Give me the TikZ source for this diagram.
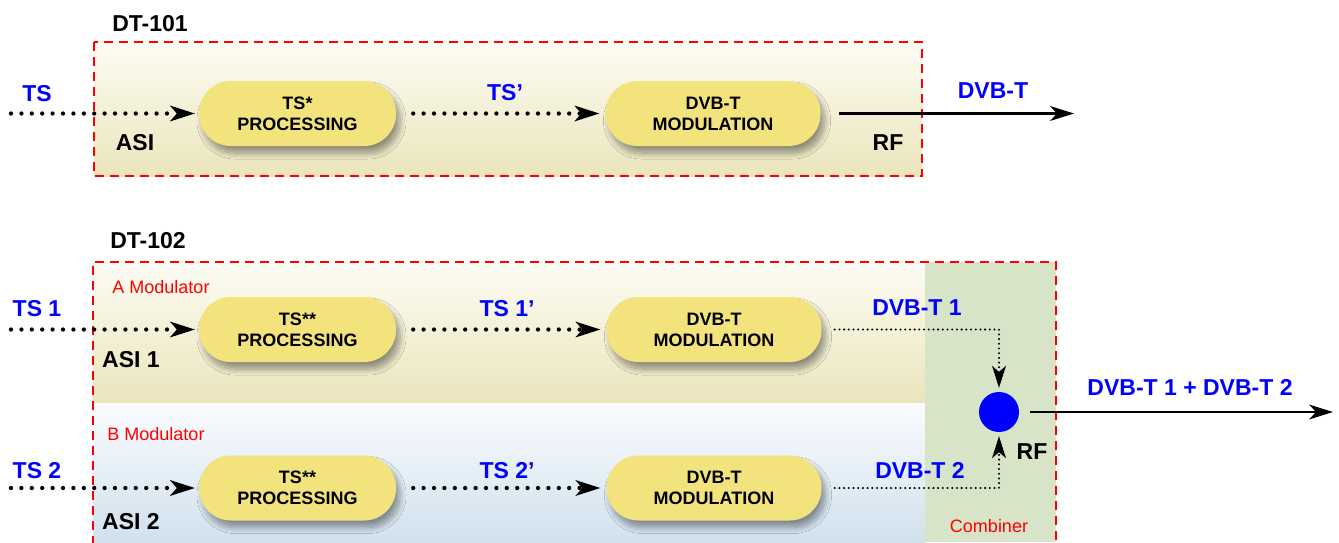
\documentclass[tikz,border=0pt]{standalone}
\usepackage{fontspec}
\setmainfont{Liberation Sans}
\usetikzlibrary{arrows.meta,shadows.blur}
\definecolor{boxyellow}{HTML}{F2E37C}
\definecolor{beigeTop}{HTML}{FDFCF4}
\definecolor{beigeBot}{HTML}{EAE5BC}
\definecolor{blueTop}{HTML}{FAFCFE}
\definecolor{blueBot}{HTML}{D0E1EE}
\definecolor{combgreen}{HTML}{D7E4C8}
\definecolor{sigblue}{HTML}{0000FF}
\definecolor{dashred}{HTML}{FF0000}
\begin{document}
\begin{tikzpicture}[x=1pt,y=-1pt,
  block/.style={draw=none, fill=boxyellow, rounded corners=32pt, minimum height=65pt,
    align=center, inner sep=0pt, font=\fontsize{18}{21}\selectfont\bfseries,
    blur shadow={shadow xshift=4pt, shadow yshift=-7pt, shadow blur radius=6pt, shadow blur steps=12, shadow opacity=40}},
  sig/.style={text=sigblue, inner sep=0pt, font=\fontsize{23}{26}\selectfont\bfseries},
  lblk/.style={text=black, inner sep=0pt, font=\fontsize{23}{26}\selectfont\bfseries},
  note/.style={text=dashred, inner sep=0pt, font=\fontsize{18}{20}\selectfont},
  frame/.style={draw=dashred, line width=2.5pt, dash pattern=on 9pt off 6pt},
  bigdot/.style={line width=4.3pt, dash pattern=on 0pt off 10.4pt, line cap=round,
    -{Stealth[length=25pt,width=16pt,inset=7pt,line width=0pt]}},
  thindot/.style={line width=2.3pt, dash pattern=on 0pt off 4.7pt, line cap=round,
    -{Stealth[length=22pt,width=14pt,inset=6pt,line width=0pt]}},
  solidarrow/.style={line width=2.6pt, -{Stealth[length=24pt,width=15pt,inset=7pt,line width=0pt]}}
]
\useasboundingbox (0,0) rectangle (1339,542);

% ---------- backgrounds ----------
\shade[top color=beigeTop, bottom color=beigeBot] (94,42) rectangle (922,176);
\shade[top color=beigeTop, bottom color=beigeBot] (93,262) rectangle (925,403);
\shade[top color=blueTop, bottom color=blueBot] (93,403) rectangle (925,542);
\fill[combgreen] (925,262) rectangle (1056,542);

% ---------- frames ----------
\draw[frame] (94,42) rectangle (922,176);
\draw[frame] (93,545) -- (93,262) -- (1056,262) -- (1056,545);

% ---------- DT-101 ----------
\node[lblk] (dt101) at (150,23.5) {DT-101};
\node[block, minimum width=197pt] (proc0) at (297.5,113.5) {TS*\\PROCESSING};
\node[block, minimum width=215pt] (mod0) at (713,113.5) {DVB-T\\MODULATION};
\node[sig] (ts) at (37,94) {TS};
\node[lblk] (asi) at (135,143) {ASI};
\node[sig] (tsp) at (505,93) {TS’};
\node[sig] (dvbt) at (993,91) {DVB-T};
\node[lblk] (rf0) at (888,143) {RF};
\coordinate (tsin) at (11,113.5);
\coordinate (dvbout) at (1074,113.5);
\draw[bigdot, shorten >=4pt] (tsin) -- (proc0.west);
\draw[bigdot, shorten <=17pt, shorten >=6pt] (proc0.east) -- (mod0.west);
\draw[solidarrow, shorten <=18pt] (mod0.east) -- (dvbout);

% ---------- DT-102 ----------
\node[lblk] (dt102) at (148,241) {DT-102};
\node[note] (amod) at (161,287) {A Modulator};
\node[note] (bmod) at (156,434) {B Modulator};
\node[note] (combl) at (989,526) {Combiner};

\node[block, minimum width=197pt] (proc1) at (297.5,329.5) {TS**\\PROCESSING};
\node[block, minimum width=215pt] (mod1) at (714,329.5) {DVB-T\\MODULATION};
\node[block, minimum width=197pt] (proc2) at (297.5,488) {TS**\\PROCESSING};
\node[block, minimum width=215pt] (mod2) at (714,488) {DVB-T\\MODULATION};

\node[sig] (ts1) at (37,309) {TS 1};
\node[lblk] (asi1) at (131,360) {ASI 1};
\node[sig] (ts1p) at (507,309) {TS 1’};
\node[sig] (dvbt1) at (917,308) {DVB-T 1};
\node[sig] (ts2) at (37,471) {TS 2};
\node[lblk] (asi2) at (131,522) {ASI 2};
\node[sig] (ts2p) at (507,471) {TS 2’};
\node[sig] (dvbt2) at (920,470) {DVB-T 2};

\node[circle, fill=sigblue, minimum size=40pt, inner sep=0pt] (comb) at (999,412) {};
\node[lblk] (rf1) at (1032,452) {RF};
\node[sig] (sum) at (1190,387) {DVB-T 1 + DVB-T 2};

\coordinate (ts1in) at (11,329.5);
\coordinate (ts2in) at (11,488);
\coordinate (sumout) at (1333,412);
\draw[bigdot, shorten >=4pt] (ts1in) -- (proc1.west);
\draw[bigdot, shorten <=17pt, shorten >=6pt] (proc1.east) -- (mod1.west);
\draw[bigdot, shorten >=4pt] (ts2in) -- (proc2.west);
\draw[bigdot, shorten <=17pt, shorten >=6pt] (proc2.east) -- (mod2.west);
\draw[thindot, shorten <=13pt, shorten >=4pt] (mod1.east) -| (comb.north);
\draw[thindot, shorten <=13pt, shorten >=4pt] (mod2.east) -| (comb.south);
\draw[solidarrow, shorten <=11pt] (comb.east) -- (sumout);
\end{tikzpicture}
\end{document}
